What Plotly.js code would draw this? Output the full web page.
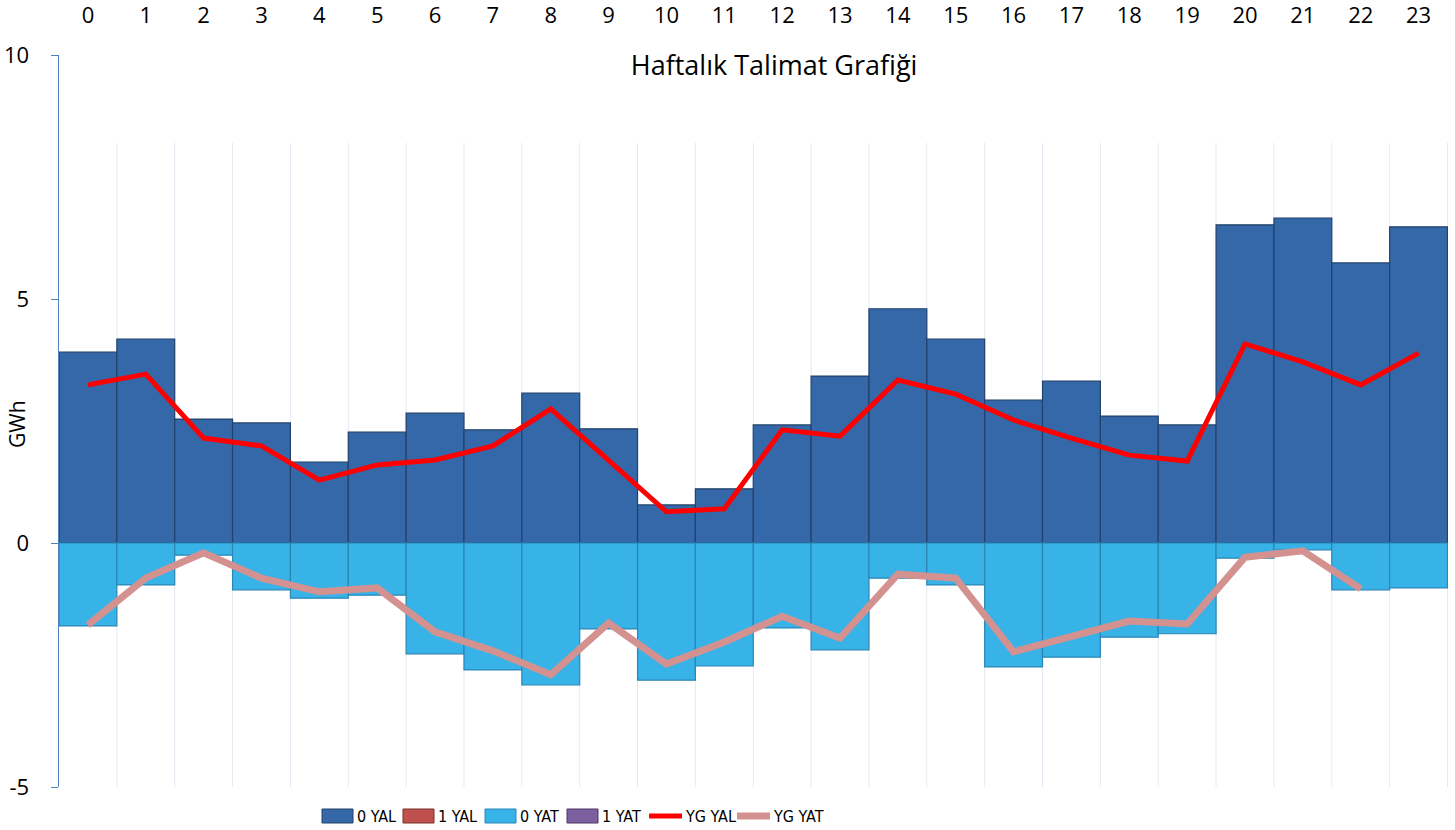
<!DOCTYPE html>
<html>
<head>
<meta charset="utf-8">
<script src="https://cdn.plot.ly/plotly-3.0.1.min.js"></script>
<style>html,body{margin:0;padding:0;background:#fff;}#chart{width:1455px;height:830px;}</style>
</head>
<body>
<div id="chart"></div>
<script>
const hours = ["0","1","2","3","4","5","6","7","8","9","10","11","12","13","14","15","16","17","18","19","20","21","22","23"];
const yal0 = [3.91,4.18,2.54,2.46,1.66,2.27,2.66,2.32,3.07,2.34,0.78,1.11,2.42,3.42,4.80,4.18,2.93,3.32,2.60,2.42,6.52,6.66,5.74,6.48];
const yal1 = [];
const yat0 = [-1.70,-0.86,-0.25,-0.96,-1.13,-1.07,-2.27,-2.60,-2.91,-1.76,-2.81,-2.52,-1.74,-2.19,-0.72,-0.86,-2.54,-2.34,-1.93,-1.86,-0.31,-0.14,-0.96,-0.92];
const yat1 = [];
const ygYal = [3.24,3.46,2.15,1.99,1.29,1.60,1.70,1.99,2.75,1.68,0.64,0.70,2.32,2.19,3.34,3.05,2.52,2.15,1.80,1.68,4.08,3.71,3.24,3.89];
const ygYat = [-1.68,-0.72,-0.20,-0.72,-1.00,-0.92,-1.82,-2.21,-2.70,-1.64,-2.48,-2.03,-1.50,-1.95,-0.64,-0.72,-2.23,-1.91,-1.60,-1.66,-0.29,-0.16,-0.94,null];
const seriesNames = ["0 YAL","1 YAL","0 YAT","1 YAT","YG YAL","YG YAT"];
const yTickVals = [-5,0,5,10];
const yTickText = ["-5","0","5","10"];

const styles = [
  {kind:'bar', fill:'#3568a8', edge:'#22416b'},
  {kind:'bar', fill:'#c0504d', edge:'#7a2f2d'},
  {kind:'bar', fill:'#38b3e8', edge:'#2a86b5'},
  {kind:'bar', fill:'#7d60a0', edge:'#4b3966'},
  {kind:'line', color:'#ff0000', width:5},
  {kind:'line', color:'#d39190', width:7}
];
const dataSets = [yal0, yal1, yat0, yat1, ygYal, ygYat];

const traces = dataSets.map((d,i)=>{
  const s = styles[i];
  if (s.kind==='bar') return {type:'bar', name:seriesNames[i], x:hours.slice(0,d.length), y:d, showlegend:false,
    marker:{color:s.fill, line:{color:s.edge, width:1.2}}};
  return {type:'scatter', mode:'lines', name:seriesNames[i], x:hours, y:d, showlegend:false, line:{color:s.color, width:s.width}};
});

const shapes = hours.map((h,i)=>({type:'line', xref:'x', yref:'y', x0:i+0.5, x1:i+0.5, y0:-5, y1:8.2, line:{color:'#e3e9f3', width:1}, layer:'below'}));

// custom legend (pixel layout positions in paper coords)
const W = 1455, H = 830, ml = 59, mr = 7, mt = 55, mb = 43;
const pw = W-ml-mr, ph = H-mt-mb;
const px = v => (v-ml)/pw;
const py = v => (H-mb-v)/ph;
const legX = [322, 403, 485, 567, 649, 737];
const annotations = [];
seriesNames.forEach((n,i)=>{
  const s = styles[i];
  const x0 = legX[i], x1 = x0+31;
  if (s.kind==='bar') {
    shapes.push({type:'rect', xref:'paper', yref:'paper', x0:px(x0), x1:px(x1), y0:py(823), y1:py(809),
      fillcolor:s.fill, line:{color:s.edge, width:1}});
  } else {
    shapes.push({type:'line', xref:'paper', yref:'paper', x0:px(x0), x1:px(x1+2), y0:py(816), y1:py(816),
      line:{color:s.color, width:s.width}});
  }
  annotations.push({xref:'paper', yref:'paper', x:px(x1+(s.kind==='bar'?2:3)), y:py(816), xanchor:'left', yanchor:'middle',
    text:n, showarrow:false, font:{family:'Liberation Sans Narrow, DejaVu Sans Condensed, sans-serif', size:16, color:'#000'}});
});
annotations.push({xref:'paper', yref:'paper', x:px(17), y:py(424), xanchor:'center', yanchor:'middle', textangle:-90,
  text:'GWh', showarrow:false, font:{family:'Open Sans, sans-serif', size:21, color:'#000'}});

const layout = {
  width:W, height:H,
  margin:{l:ml, r:mr, t:mt, b:mb, autoexpand:false},
  paper_bgcolor:'#fff', plot_bgcolor:'#fff',
  font:{family:'Open Sans, sans-serif', color:'#000'},
  title:{text:'Haftalık Talimat Grafiği', font:{size:27, family:'Open Sans, sans-serif', color:'#000'}, x:0.532, xanchor:'center', y:1-66/830, yanchor:'middle'},
  barmode:'relative', bargap:0,
  showlegend:false,
  xaxis:{type:'category', side:'top', showgrid:false, zeroline:false, showline:false,
    ticks:'outside', ticklen:22, tickcolor:'rgba(0,0,0,0)', tickfont:{size:22}, fixedrange:true},
  yaxis:{range:[-5,10], tickvals:yTickVals, ticktext:yTickText, showgrid:false, zeroline:true, zerolinecolor:'#4f81bd', zerolinewidth:1.5,
    showline:true, linecolor:'#4f81bd', linewidth:1.5, ticks:'outside', ticklen:7, tickcolor:'#4f81bd', tickfont:{size:22},
    ticklabelstandoff:17},
  shapes:shapes,
  annotations:annotations
};

Plotly.newPlot('chart', traces, layout, {displayModeBar:false, staticPlot:true});
</script>
</body>
</html>
